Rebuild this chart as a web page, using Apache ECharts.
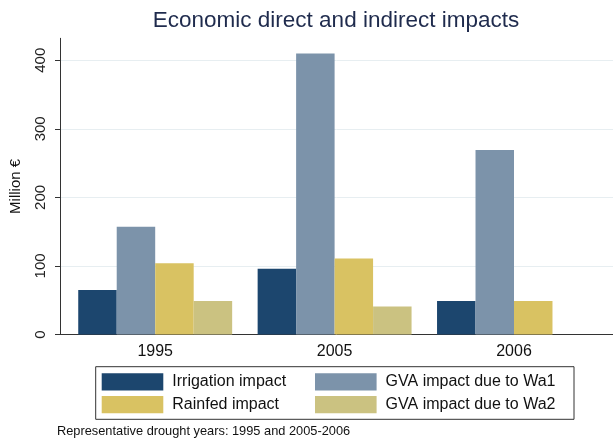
<!DOCTYPE html>
<html>
<head>
<meta charset="utf-8">
<script src="https://cdn.jsdelivr.net/npm/echarts@6/dist/echarts.min.js"></script>
<style>
html,body{margin:0;padding:0;background:#fff;}
#chart{width:613px;height:441px;}
</style>
</head>
<body>
<div id="chart"></div>
<script>
const categories = ['1995', '2005', '2006'];
const seriesNames = ['Irrigation impact', 'GVA impact due to Wa1', 'Rainfed impact', 'GVA impact due to Wa2'];
const irrigation = [65, 96, 49];
const gvaWa1 = [157, 410, 269];
const rainfed = [104, 111, 49];
const gvaWa2 = [49, 41, null];
const yTicks = [0, 100, 200, 300, 400];
const colors = ['#1c466e', '#7c93aa', '#d9c262', '#cbc281'];

const FONT = 'Liberation Sans, Arial, sans-serif';
const chart = echarts.init(document.getElementById('chart'), null, {renderer: 'canvas'});
const seriesData = [irrigation, gvaWa1, rainfed, gvaWa2];

const option = {
  backgroundColor: '#ffffff',
  animation: false,
  title: [
    {
      text: 'Economic direct and indirect impacts',
      left: 336, top: 9, textAlign: 'center', padding: 0,
      textStyle: {fontFamily: FONT, fontSize: 22.5, fontWeight: 'normal', color: '#1f2b4d'}
    },
    {
      text: 'Representative drought years: 1995 and 2005-2006',
      left: 57, top: 425, padding: 0,
      textStyle: {fontFamily: FONT, fontSize: 12.8, fontWeight: 'normal', color: '#111'}
    }
  ],
  grid: [
    {left: 65.5, right: 9.3, top: 38.3, bottom: 106.5},
    {left: 53.3, right: 0, top: 38.3, bottom: 106.5}
  ],
  xAxis: [
    {
      type: 'category', gridIndex: 0, data: categories,
      axisLine: {show: false}, axisTick: {show: false},
      axisLabel: {fontFamily: FONT, fontSize: 16, color: '#111', margin: 9}
    },
    {
      type: 'value', gridIndex: 1, min: 0, max: 1,
      axisLine: {show: true, lineStyle: {color: '#333', width: 1}},
      axisTick: {show: false}, axisLabel: {show: false}, splitLine: {show: false}
    }
  ],
  yAxis: [
    {type: 'value', gridIndex: 0, min: 0, max: 432, show: false, splitLine: {show: false}},
    {
      type: 'value', gridIndex: 1, min: 0, max: 432, interval: 100,
      name: 'Million €', nameLocation: 'middle', nameGap: 37, nameRotate: 90,
      nameTextStyle: {fontFamily: FONT, fontSize: 15, color: '#111'},
      axisLine: {show: true, lineStyle: {color: '#333', width: 1}},
      axisTick: {show: true, length: 5, lineStyle: {color: '#333'}, customValues: yTicks},
      axisLabel: {
        fontFamily: FONT, fontSize: 15, color: '#222', rotate: 90, margin: 12,
        customValues: yTicks
      },
      splitLine: {show: true, lineStyle: {color: '#e7eef1', width: 1}}
    }
  ],
  legend: [
    {
      orient: 'vertical', left: 101.7, top: 373.3, padding: 0,
      itemWidth: 61.6, itemHeight: 17.3, itemGap: 5.4, icon: 'rect',
      data: [seriesNames[0], seriesNames[2]],
      textStyle: {fontFamily: FONT, fontSize: 16, color: '#111', padding: [0, 0, 0, 4]}
    },
    {
      orient: 'vertical', left: 315, top: 373.3, padding: 0,
      itemWidth: 61.6, itemHeight: 17.3, itemGap: 5.4, icon: 'rect',
      data: [seriesNames[1], seriesNames[3]],
      textStyle: {fontFamily: FONT, fontSize: 16, color: '#111', padding: [0, 0, 0, 4]}
    }
  ],
  graphic: [
    {
      type: 'rect', z: -1,
      shape: {x: 95.7, y: 366.7, width: 478.3, height: 52.6},
      style: {fill: '#fff', stroke: '#333', lineWidth: 1}
    }
  ],
  series: seriesNames.map((name, i) => ({
    name: name, type: 'bar', xAxisIndex: 0, yAxisIndex: 0,
    data: seriesData[i],
    barGap: '0%', barCategoryGap: '14.2%',
    itemStyle: {color: colors[i]}
  }))
};
chart.setOption(option);
</script>
</body>
</html>
